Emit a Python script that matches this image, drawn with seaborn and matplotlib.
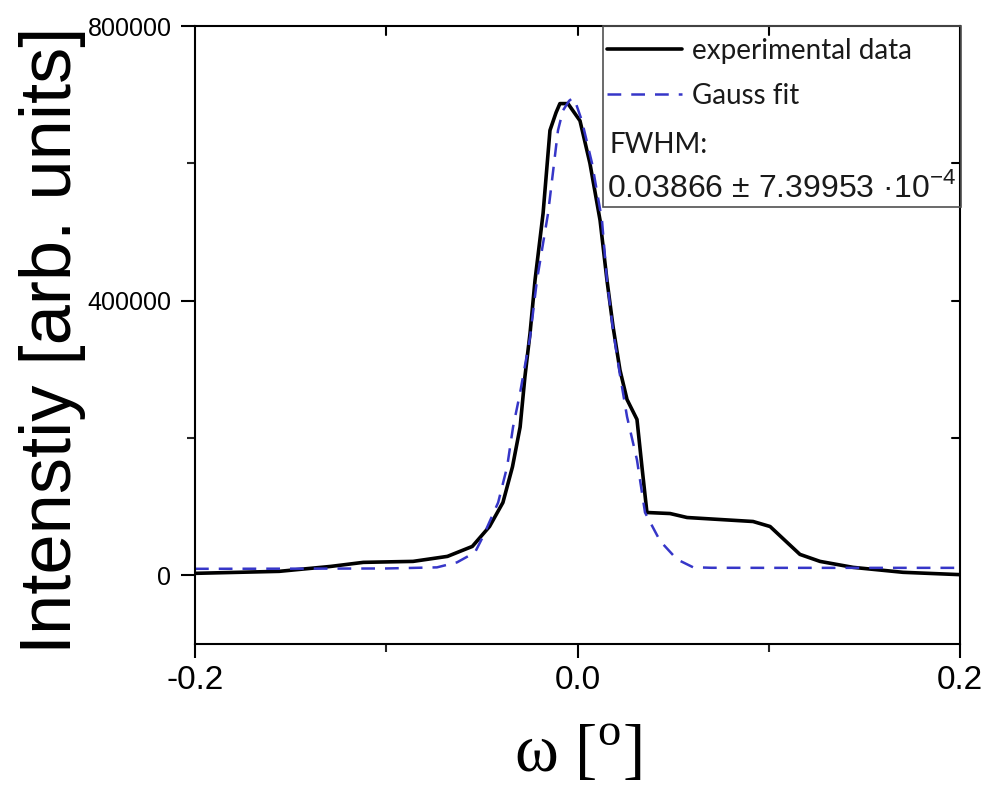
import matplotlib
matplotlib.use("Agg")
import matplotlib.pyplot as plt
from matplotlib.patches import Rectangle
from matplotlib.ticker import FixedLocator
import seaborn as sns
import pandas as pd

# rocking curve: measured intensity
omega_exp = [-0.200, -0.156, -0.129, -0.112, -0.086, -0.068, -0.055, -0.046,
             -0.039, -0.034, -0.030, -0.0275, -0.0248, -0.0222, -0.018,
             -0.0144, -0.0112, -0.0092, -0.005, 0.0013, 0.0065, 0.0118,
             0.0154, 0.0186, 0.0222, 0.0259, 0.0311, 0.0337, 0.0363, 0.0484,
             0.0573, 0.0745, 0.0918, 0.1007, 0.1096, 0.1163, 0.1268, 0.1441,
             0.1702, 0.200]
intensity_exp = [2900, 5800, 13000, 18900, 20300, 27600, 42100, 71100,
                 106000, 158000, 216000, 289000, 353000, 430000, 527000,
                 648000, 674000, 687000, 687000, 662000, 600000, 517000,
                 430000, 362000, 299000, 256000, 227000, 158000, 91500, 90000,
                 84200, 81300, 78400, 71100, 47900, 30500, 20300, 11600,
                 4400, 1000]

# Gaussian fit curve
omega_fit = [-0.200, -0.150, -0.100, -0.0735, -0.063, -0.0536, -0.0494,
             -0.0415, -0.0368, -0.0337, -0.030, -0.0248, -0.0212, -0.0154,
             -0.0102, -0.0076, -0.0044, -0.0026, -0.0013, 0.0023, 0.0076,
             0.0128, 0.0154, 0.0186, 0.0222, 0.0259, 0.0311, 0.0353, 0.0432,
             0.052, 0.0604, 0.070, 0.100, 0.150, 0.200]
intensity_fit = [9500, 9700, 10000, 11600, 18900, 33400, 56600, 106000,
                 158000, 216000, 266000, 347000, 430000, 527000, 648000,
                 677000, 691000, 695000, 691000, 662000, 600000, 517000,
                 430000, 357000, 292000, 231000, 168000, 91500, 50000,
                 23300, 11800, 11000, 10900, 10900, 10900]

x_ticks = [-0.2, 0.0, 0.2]
x_ticklabels = ["-0.2", "0.0", "0.2"]
y_ticks = [0, 400000, 800000]
y_ticklabels = ["0", "400000", "800000"]
fwhm_text = r"0.03866 ± 7.39953 ·10$^{\mathregular{-4}}$"

sns.set_theme(style="ticks")
plt.rcParams["font.family"] = ["Liberation Sans", "DejaVu Sans"]

exp_df = pd.DataFrame({"omega": omega_exp, "intensity": intensity_exp})
fit_df = pd.DataFrame({"omega": omega_fit, "intensity": intensity_fit})

fig = plt.figure(figsize=(9.88, 7.85), dpi=100)
fig.patch.set_facecolor("white")
W, H = 988, 785
ax = fig.add_axes([195 / W, (H - 644) / H, (960 - 195) / W, (644 - 26) / H])
ax.set_facecolor("white")

sns.lineplot(data=exp_df, x="omega", y="intensity", ax=ax, color="black",
             linewidth=2.6, estimator=None, sort=False,
             label="experimental data")
sns.lineplot(data=fit_df, x="omega", y="intensity", ax=ax, color="#3636c8",
             linewidth=1.8, estimator=None, sort=False, label="Gauss fit",
             dashes=False)
ax.lines[1].set_dashes([5.5, 4])

ax.set_xlim(-0.2, 0.2)
ax.set_ylim(-100000, 800000)

ax.xaxis.set_major_locator(FixedLocator(x_ticks))
ax.set_xticklabels(x_ticklabels)
ax.xaxis.set_minor_locator(FixedLocator([-0.1, 0.1]))
ax.yaxis.set_major_locator(FixedLocator(y_ticks))
ax.set_yticklabels(y_ticklabels)
ax.yaxis.set_minor_locator(FixedLocator([200000, 600000]))

for s in ax.spines.values():
    s.set_visible(True)
    s.set_linewidth(1.5)
    s.set_color("black")

ax.tick_params(axis="x", which="major", direction="out", length=10, width=1.5,
               labelsize=24, pad=5, colors="black", top=False)
ax.tick_params(axis="x", which="minor", direction="out", length=6, width=1.5,
               top=False)
ax.tick_params(axis="y", which="major", direction="out", length=10, width=1.5,
               labelsize=18, pad=7, colors="black", right=False)
ax.tick_params(axis="y", which="minor", direction="out", length=6, width=1.5,
               right=False)

# mirrored inward ticks on the top and right frame
for xv in [-0.1, 0.0, 0.1]:
    ax.plot([xv, xv], [1, 0.985], transform=ax.get_xaxis_transform(),
            color="black", lw=1.5, clip_on=False)
for yv in [200000, 400000, 600000]:
    ax.plot([1, 0.99], [yv, yv], transform=ax.get_yaxis_transform(),
            color="black", lw=1.5, clip_on=False)

ax.set_xlabel(r"ω [$^{\mathregular{o}}$]", family="Liberation Serif",
              fontsize=48, color="black")
ax.xaxis.set_label_coords(0.5, -0.13)
ax.set_ylabel("Intenstiy [arb. units]", fontsize=52, color="black")
ax.yaxis.set_label_coords(-0.142, 0.492)

# legend box with fit result
x0 = (603 - 195) / 765
y0 = (644 - 207) / 618
ax.add_patch(Rectangle((x0, y0), 1 - x0 + 0.001, 1 - y0, transform=ax.transAxes,
                       fill=False, edgecolor="#505050", lw=1.2, zorder=5,
                       clip_on=False))
leg = ax.legend(loc="upper left", bbox_to_anchor=((607 - 195) / 765, (644 - 38) / 618),
                frameon=False, handlelength=2.7,
                handletextpad=0.35, borderpad=0, borderaxespad=0,
                labelspacing=0.68, prop={"family": "Lato", "size": 20})
for t in leg.get_texts():
    t.set_color("#1a1a1a")
ax.text((609 - 195) / 765, (644 - 153) / 618, "FWHM:", transform=ax.transAxes,
        family="Lato", fontsize=20, color="#1a1a1a", va="baseline", ha="left")
ax.text((607 - 195) / 765, (644 - 197) / 618, fwhm_text, transform=ax.transAxes,
        fontsize=23, color="#1a1a1a", va="baseline", ha="left")

fig.savefig("out.png", dpi=100, facecolor="white")
